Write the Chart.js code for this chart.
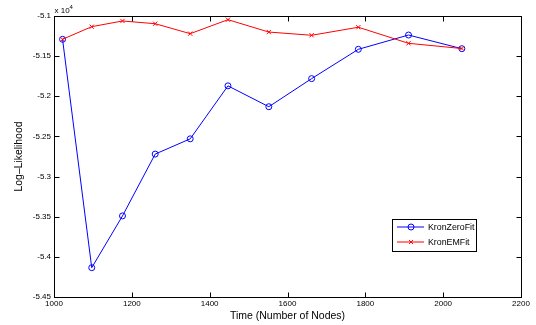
<!DOCTYPE html>
<html>
<head>
<meta charset="utf-8">
<script src="https://cdn.jsdelivr.net/npm/chart.js@4/dist/chart.umd.min.js"></script>
<style>
  html, body { margin: 0; padding: 0; background: #fff; }
  #wrap { width: 536px; height: 325px; position: relative; }
</style>
</head>
<body>
<div id="wrap"><canvas id="chart"></canvas></div>
<script>
// values are in units of 10^4
const nodes = [1022, 1097, 1176, 1260, 1350, 1447, 1552, 1662, 1782, 1911, 2048];
const kronZeroFit = [-5.129, -5.4135, -5.349, -5.272, -5.253, -5.187, -5.213, -5.178, -5.1415, -5.1237, -5.1407];
const kronEMFit = [-5.129, -5.1133, -5.1062, -5.1096, -5.122, -5.1046, -5.12, -5.124, -5.114, -5.134, -5.1405];

const xTicks = [1000, 1200, 1400, 1600, 1800, 2000, 2200];
const xTickLabels = ["1000", "1200", "1400", "1600", "1800", "2000", "2200"];
const yTicks = [-5.45, -5.4, -5.35, -5.3, -5.25, -5.2, -5.15, -5.1];
const yTickLabels = ["-5.45", "-5.4", "-5.35", "-5.3", "-5.25", "-5.2", "-5.15", "-5.1"];

const FONT = "'Liberation Sans', Arial, Helvetica, sans-serif";

// MATLAB style box, inward ticks, exponent and legend
const matlabAxes = {
  id: "matlabAxes",
  afterDraw(chart) {
    const ctx = chart.ctx;
    const a = chart.chartArea;
    const xs = chart.scales.x, ys = chart.scales.y;
    const L = Math.round(a.left) + 0.5, R = Math.round(a.right) + 0.5;
    const T = Math.round(a.top) + 0.5, B = Math.round(a.bottom) + 0.5;
    const tl = 5;

    ctx.save();
    ctx.strokeStyle = "#000";
    ctx.lineWidth = 1;
    ctx.strokeRect(L, T, R - L, B - T);

    ctx.beginPath();
    xTicks.forEach(v => {
      const px = Math.round(xs.getPixelForValue(v)) + 0.5;
      ctx.moveTo(px, B); ctx.lineTo(px, B - tl);
      ctx.moveTo(px, T); ctx.lineTo(px, T + tl);
    });
    yTicks.forEach(v => {
      const py = Math.round(ys.getPixelForValue(v)) + 0.5;
      ctx.moveTo(L, py); ctx.lineTo(L + tl, py);
      ctx.moveTo(R, py); ctx.lineTo(R - tl, py);
    });
    ctx.stroke();

    // x 10^4
    ctx.fillStyle = "#000";
    ctx.textBaseline = "middle";
    ctx.textAlign = "left";
    ctx.font = "8px " + FONT;
    ctx.fillText("x 10", L, 11);
    ctx.font = "6px " + FONT;
    ctx.fillText("4", L + 15, 7);

    // legend
    const lx = 392.5, ly = 219.5, lw = 84, lh = 32;
    ctx.fillStyle = "#fff";
    ctx.fillRect(lx, ly, lw, lh);
    ctx.strokeStyle = "#000";
    ctx.strokeRect(lx, ly, lw, lh);

    const entries = [
      { text: "KronZeroFit", color: "#0000ff", style: "circle", y: 227 },
      { text: "KronEMFit", color: "#ff0000", style: "cross", y: 242 }
    ];
    entries.forEach(e => {
      ctx.strokeStyle = e.color;
      ctx.lineWidth = 1;
      ctx.beginPath();
      ctx.moveTo(397, e.y); ctx.lineTo(424, e.y);
      ctx.stroke();
      ctx.beginPath();
      if (e.style === "circle") {
        ctx.arc(411, e.y, 3, 0, Math.PI * 2);
      } else {
        ctx.moveTo(409, e.y - 2); ctx.lineTo(413, e.y + 2);
        ctx.moveTo(413, e.y - 2); ctx.lineTo(409, e.y + 2);
      }
      ctx.stroke();
      ctx.fillStyle = "#000";
      ctx.font = "8.8px " + FONT;
      ctx.textAlign = "left";
      ctx.fillText(e.text, 428, e.y + 0.5);
    });
    ctx.restore();
  }
};

const ctx = document.getElementById("chart").getContext("2d");

new Chart(ctx, {
  type: "line",
  data: {
    datasets: [
      {
        label: "KronZeroFit",
        data: nodes.map((x, i) => ({ x, y: kronZeroFit[i] })),
        borderColor: "#0000ff",
        borderWidth: 1,
        pointStyle: "circle",
        pointRadius: 3,
        pointBorderWidth: 1,
        pointBorderColor: "#0000ff",
        pointBackgroundColor: "rgba(0,0,0,0)",
        tension: 0,
        order: 1
      },
      {
        label: "KronEMFit",
        data: nodes.map((x, i) => ({ x, y: kronEMFit[i] })),
        borderColor: "#ff0000",
        borderWidth: 1,
        pointStyle: "crossRot",
        pointRadius: 3,
        pointBorderWidth: 1,
        pointBorderColor: "#ff0000",
        pointBackgroundColor: "#ff0000",
        tension: 0,
        order: 0
      }
    ]
  },
  options: {
    responsive: true,
    maintainAspectRatio: false,
    animation: false,
    events: [],
    layout: { padding: { top: 16, right: 15, left: 0, bottom: 0 } },
    plugins: {
      legend: { display: false },
      tooltip: { enabled: false }
    },
    scales: {
      x: {
        type: "linear",
        min: 1000,
        max: 2200,
        afterBuildTicks: s => { s.ticks = xTicks.map(v => ({ value: v })); },
        afterFit: s => { s.height = 28; },
        grid: { display: false, drawTicks: false },
        border: { display: false },
        ticks: {
          color: "#000",
          font: { family: FONT, size: 8 },
          padding: 2,
          maxRotation: 0,
          autoSkip: false,
          callback: (v, i) => xTickLabels[i]
        },
        title: {
          display: true,
          text: "Time (Number of Nodes)",
          color: "#000",
          font: { family: FONT, size: 10.5 },
          padding: { top: 0, bottom: 3 }
        }
      },
      y: {
        type: "linear",
        min: -5.45,
        max: -5.1,
        afterBuildTicks: s => { s.ticks = yTicks.map(v => ({ value: v })); },
        afterFit: s => { s.width = 54; },
        grid: { display: false, drawTicks: false },
        border: { display: false },
        ticks: {
          color: "#000",
          font: { family: FONT, size: 8 },
          padding: 3,
          autoSkip: false,
          callback: (v, i) => yTickLabels[i]
        },
        title: {
          display: true,
          text: "Log\u2013Likelihood",
          color: "#000",
          font: { family: FONT, size: 10.4 },
          padding: { top: 13, bottom: 0 }
        }
      }
    }
  },
  plugins: [matlabAxes]
});
</script>
</body>
</html>
